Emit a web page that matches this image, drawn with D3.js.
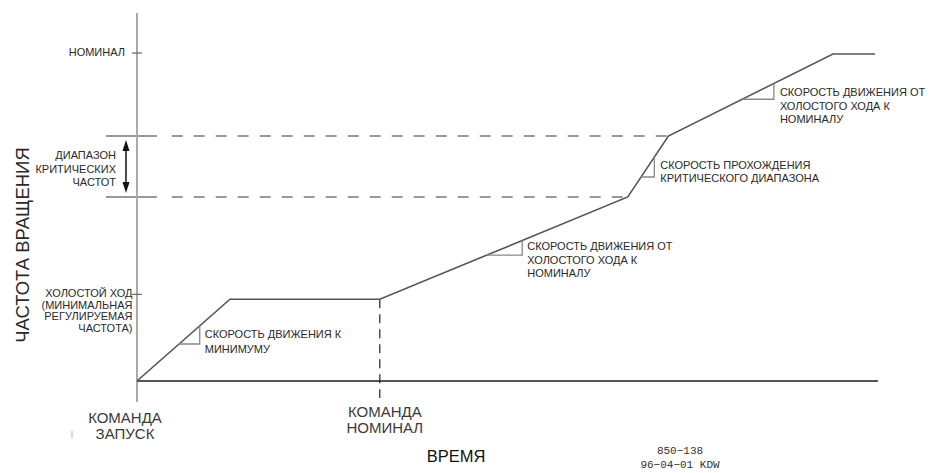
<!DOCTYPE html>
<html><head><meta charset="utf-8">
<script src="https://cdn.jsdelivr.net/npm/d3@7"></script>
<style>body{margin:0;background:#fff}svg{display:block}text{font-family:"Liberation Sans",Arial,sans-serif;fill:#2a2a2a}</style>
</head><body><svg id="c" width="934" height="473"></svg>
<script>
// Speed profile (time %, speed %)
const timePoints  = [0, 12.6, 32.9, 66.5, 72.0, 94.3, 100];
const speedPoints = [0, 25.0, 25.0, 56.3, 74.9, 100, 100];
// Reference speed levels
const idleTick = 26.5, nominalTick = 100.3;
const critLow = 56.3, critHigh = 74.9;
const critLowEnd = 66.5, critHighEnd = 72.0;
const nominalCmdTime = 32.9;
// Slope annotations: triangle spans (time) and labels
const slopeT1 = [5.7, 47.4, 68.3, 82.0];
const slopeT2 = [8.5, 52.2, 70.1, 86.3];
const slopeLabels = [
  ["СКОРОСТЬ ДВИЖЕНИЯ К", "МИНИМУМУ"],
  ["СКОРОСТЬ ДВИЖЕНИЯ ОТ", "ХОЛОСТОГО ХОДА К", "НОМИНАЛУ"],
  ["СКОРОСТЬ ПРОХОЖДЕНИЯ", "КРИТИЧЕСКОГО ДИАПАЗОНА"],
  ["СКОРОСТЬ ДВИЖЕНИЯ ОТ", "ХОЛОСТОГО ХОДА К", "НОМИНАЛУ"]
];
const nominalLabel = ["НОМИНАЛ"];
const critLabel = ["ДИАПАЗОН", "КРИТИЧЕСКИХ", "ЧАСТОТ"];
const idleLabel = ["ХОЛОСТОЙ ХОД", "(МИНИМАЛЬНАЯ", "РЕГУЛИРУЕМАЯ", "ЧАСТОТА)"];
const startLabel = ["КОМАНДА", "ЗАПУСК"];
const nomCmdLabel = ["КОМАНДА", "НОМИНАЛ"];
const yTitle = "ЧАСТОТА ВРАЩЕНИЯ";
const xTitle = "ВРЕМЯ";
const drawingId = ["850−138", "96−04−01  KDW"];

const svg = d3.select("#c");
const x = d3.scaleLinear().domain([0, 100]).range([137, 875]);
const y = d3.scaleLinear().domain([0, 100]).range([381, 54]);
const speedAt = d3.scaleLinear().domain(timePoints).range(speedPoints);

// critical band lines
[critHigh, critLow].forEach((v, i) => {
  const end = i === 0 ? critHighEnd : critLowEnd;
  svg.append("line").attr("x1", x(-4.2)).attr("x2", x(2.7)).attr("y1", y(v)).attr("y2", y(v))
    .attr("stroke", "#999").attr("stroke-width", 2);
  svg.append("line").attr("x1", x(4.7)).attr("x2", x(end)).attr("y1", y(v)).attr("y2", y(v))
    .attr("stroke", "#999").attr("stroke-width", 2).attr("stroke-dasharray", "11,11");
});

// y axis
svg.append("line").attr("x1", x(0)).attr("x2", x(0)).attr("y1", 13).attr("y2", 402)
  .attr("stroke", "#aaa").attr("stroke-width", 2);
// x axis
svg.append("line").attr("x1", x(0)).attr("x2", x(100.4)).attr("y1", y(0)).attr("y2", y(0))
  .attr("stroke", "#555").attr("stroke-width", 2);
// ticks
[nominalTick, idleTick].forEach(v => {
  svg.append("line").attr("x1", x(0) - 5).attr("x2", x(0) + 5).attr("y1", y(v)).attr("y2", y(v))
    .attr("stroke", "#666").attr("stroke-width", 1.2);
});

// nominal command dashed vertical
svg.append("line").attr("x1", x(nominalCmdTime)).attr("x2", x(nominalCmdTime))
  .attr("y1", y(25)).attr("y2", 398).attr("stroke", "#222").attr("stroke-width", 1.2)
  .attr("stroke-dasharray", "9,6");

// speed profile
const line = d3.line().x((d, i) => x(timePoints[i])).y(d => y(d));
svg.append("path").datum(speedPoints).attr("d", line).attr("fill", "none")
  .attr("stroke", "#555").attr("stroke-width", 1.6);

// slope triangles & labels
const labelOffsets = [[5, 12, 15], [5, 10, 13.5], [6, 12, 13], [6, 13, 13.5]];
slopeT1.forEach((t1, i) => {
  const t2 = slopeT2[i];
  const s1 = speedAt(t1), s2 = speedAt(t2);
  svg.append("path").attr("d", `M${x(t1)},${y(s1)}H${x(t2)}V${y(s2)}`)
    .attr("fill", "none").attr("stroke", "#888").attr("stroke-width", 1.3);
  const [dx, dy, lh] = labelOffsets[i];
  const tx = svg.append("text").attr("font-size", 11);
  slopeLabels[i].forEach((s, j) => {
    tx.append("tspan").attr("x", x(t2) + dx).attr("y", y(s2) + dy + j * lh).text(s);
  });
});

// left labels
function block(lines, xr, y0, lh, size, anchor, fill) {
  const t = svg.append("text").attr("font-size", size).attr("text-anchor", anchor || "end");
  if (fill) t.style("fill", fill);
  lines.forEach((s, j) => t.append("tspan").attr("x", xr).attr("y", y0 + j * lh).text(s));
}
block(nominalLabel, 125, y(nominalTick) + 3, 13, 11);
block(critLabel, 116, 159, 13.5, 11);
block(idleLabel, 132.5, y(idleTick) + 2.5, 11.8, 11);

// double arrow
const ax = 126;
svg.append("line").attr("x1", ax).attr("x2", ax).attr("y1", y(critHigh) + 8).attr("y2", y(critLow) - 8)
  .attr("stroke", "#111").attr("stroke-width", 1.5);
svg.append("path").attr("d", `M${ax},${y(critHigh) + 4}l-3.5,11h7z`).attr("fill", "#111");
svg.append("path").attr("d", `M${ax},${y(critLow) - 4}l-3.5,-11h7z`).attr("fill", "#111");

// bottom labels
block(startLabel, x(0) - 12, 423, 16, 15, "middle", "#3a3a3a");
block(nomCmdLabel, x(nominalCmdTime) + 5, 417, 15.5, 15, "middle", "#3a3a3a");
block([xTitle], 456, 462, 16, 16.5, "middle", "#111");
const idText = svg.append("text").attr("font-size", 11).attr("text-anchor", "middle")
  .style("font-family", "'Liberation Mono',monospace").style("fill", "#333");
drawingId.forEach((s, j) => idText.append("tspan").attr("x", 680).attr("y", 454 + j * 14).text(s));

// y title
svg.append("text").attr("transform", "translate(28.5,245) rotate(-90)")
  .attr("text-anchor", "middle").attr("font-size", 18.5).text(yTitle);

// stray mark
svg.append("line").attr("x1", 72).attr("x2", 72).attr("y1", 431).attr("y2", 438)
  .attr("stroke", "#ccc").attr("stroke-width", 1.5);
</script></body></html>
